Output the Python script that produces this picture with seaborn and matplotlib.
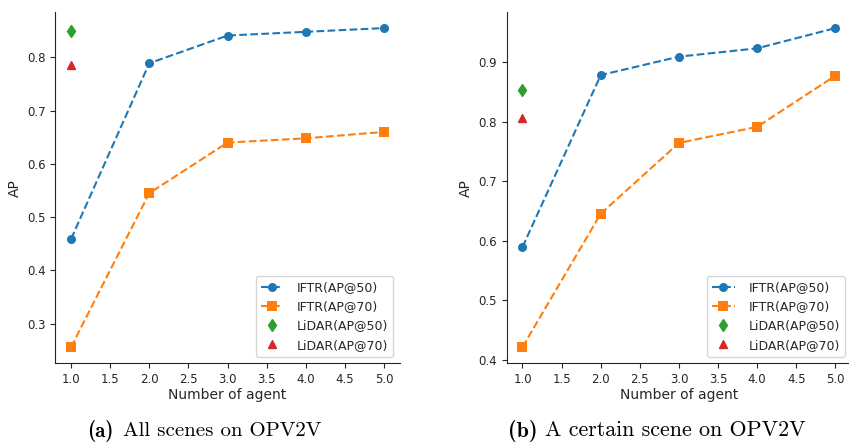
import seaborn as sns
import matplotlib.pyplot as plt

# data
agents = [1.0, 2.0, 3.0, 4.0, 5.0]

all_iftr50 = [0.459, 0.789, 0.841, 0.848, 0.855]
all_iftr70 = [0.256, 0.545, 0.640, 0.648, 0.660]
all_lidar50 = [0.850]
all_lidar70 = [0.785]

one_iftr50 = [0.589, 0.878, 0.909, 0.923, 0.957]
one_iftr70 = [0.421, 0.645, 0.764, 0.791, 0.877]
one_lidar50 = [0.853]
one_lidar70 = [0.806]

tags = ['(a)', '(b)']
captions = ['All scenes on OPV2V', 'A certain scene on OPV2V']

sns.set_style('ticks')
pal = sns.color_palette('tab10')

fig = plt.figure(figsize=(8.49, 4.43), dpi=100)
ax1 = fig.add_axes([0.0653, 0.1806, 0.4054, 0.792])
ax2 = fig.add_axes([0.597, 0.1806, 0.4054, 0.792])

panels = [
    (ax1, all_iftr50, all_iftr70, all_lidar50, all_lidar70),
    (ax2, one_iftr50, one_iftr70, one_lidar50, one_lidar70),
]

for ax, i50, i70, l50, l70 in panels:
    sns.lineplot(x=agents, y=i50, ax=ax, color=pal[0], linestyle='--',
                 marker='o', markersize=6.5, markeredgewidth=0, label='IFTR(AP@50)')
    sns.lineplot(x=agents, y=i70, ax=ax, color=pal[1], linestyle='--',
                 marker='s', markersize=6.5, markeredgewidth=0, label='IFTR(AP@70)')
    ax.plot(agents[:1], l50, linestyle='none', marker='d', markersize=6,
            color=pal[2], label='LiDAR(AP@50)')
    ax.plot(agents[:1], l70, linestyle='none', marker='^', markersize=6,
            color=pal[3], label='LiDAR(AP@70)')
    ax.set_xlabel('Number of agent', fontsize=10, labelpad=2)
    ax.set_ylabel('AP', fontsize=10)
    ax.tick_params(labelsize=8.5, length=3.5)
    ax.legend(loc='lower right', fontsize=9, frameon=True,
              handlelength=1.8, handletextpad=1.1)
    sns.despine(ax=ax)

# captions below each panel (serif, like the paper)
for tag, cap, x0, x1, fs in zip(tags, captions, [87, 508], [123, 545], [15, 15.8]):
    fig.text(x0 / 849, 0.028, tag, fontsize=fs, family='cmb10',
             ha='left', va='center', color='black')
    fig.text(x1 / 849, 0.028, cap, fontsize=fs, family='cmr10',
             ha='left', va='center', color='black')

plt.savefig('out.png', dpi=100)
